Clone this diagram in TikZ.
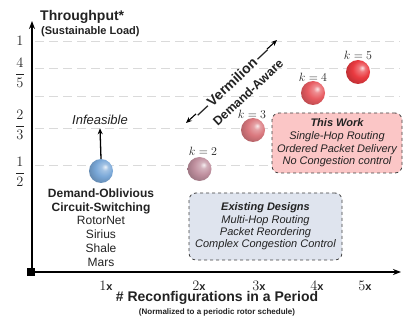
\documentclass[tikz,border=0pt]{standalone}
\usepackage{fontspec}
\setmainfont{Liberation Sans}
\usetikzlibrary{arrows.meta,calc}
\definecolor{gridc}{HTML}{DADADA}
\definecolor{txt}{HTML}{222222}
\definecolor{pinkfill}{HTML}{FBC6C6}
\definecolor{bluefill}{HTML}{DFE4EE}
\definecolor{ballA}{HTML}{7AA8D8}
\definecolor{ballB}{HTML}{C0909F}
\definecolor{ballC}{HTML}{DA787E}
\definecolor{ballD}{HTML}{E85C62}
\definecolor{ballE}{HTML}{EA3A40}
\colorlet{myball}{ballA}
\pgfdeclareradialshading[myball]{softball}{\pgfqpoint{9bp}{9bp}}{%
  color(0bp)=(myball!15!white);
  color(7bp)=(myball!70!white);
  color(18bp)=(myball);
  color(32bp)=(myball!80!black);
  color(42bp)=(myball!62!black);
  color(60bp)=(myball!55!black)}
\tikzset{
  gridline/.style={gridc, line width=1pt, dash pattern=on 9pt off 5pt},
  axisline/.style={line width=1.8pt, -{Stealth[length=8pt,width=6pt]}},
  sphere/.style={circle, minimum size=24pt, inner sep=0pt, /utils/exec={\colorlet{myball}{#1}}, shading=softball},
  klab/.style={font=\fontsize{13}{13}\selectfont, text=txt},
  ylab/.style={font=\fontsize{14}{14}\selectfont, text=txt},
  xlab/.style={font=\fontsize{14}{14}\selectfont, text=txt},
  infobox/.style={draw=black!75, dashed, line width=0.8pt, rounded corners=7pt, fill=#1, align=center, text=txt, inner sep=0pt},
  diag/.style={rotate=43, text=txt, inner sep=0pt},
}
\newcommand{\xx}{{\fontsize{11}{11}\selectfont\bfseries x}}
\begin{document}
\begin{tikzpicture}[x=1pt,y=-1pt]
\useasboundingbox (0,0) rectangle (406,320);
% grid lines
\foreach \yy in {42,69,97,129,166}{
  \draw[gridline] (35,\yy) -- (400,\yy);
}
% axes
\coordinate (O) at (32,272);
\coordinate (ytop) at (32,21);
\coordinate (xend) at (401,272);
\draw[axisline] (O) -- (ytop);
\draw[axisline] (O) -- (xend);
\node[fill=black, minimum size=8pt, inner sep=0pt] (orig) at (31,272) {};
% axis titles
\node[anchor=west, font=\fontsize{14}{14}\selectfont\bfseries, text=txt, inner sep=0pt] (ytitle) at (40,17) {Throughput*};
\node[anchor=west, font=\fontsize{11}{11}\selectfont\bfseries, text=txt, inner sep=0pt] (ysub) at (41,32) {(Sustainable Load)};
\node[font=\fontsize{14}{14}\selectfont\bfseries, text=txt, inner sep=0pt] (xtitle) at (217,298) {\# Reconfigurations in a Period};
\node[font=\fontsize{8}{8}\selectfont\bfseries, text=txt, inner sep=0pt] (xsub) at (217,312) {(Normalized to a periodic rotor schedule)};
% y tick labels
\node[ylab] (y1) at (20,41) {$1$};
\node[ylab] (y45) at (20,73) {$\displaystyle\frac{4}{5}$};
\node[ylab] (y23) at (20,125) {$\displaystyle\frac{2}{3}$};
\node[ylab] (y12) at (20,172) {$\displaystyle\frac{1}{2}$};
% x tick labels
\node[xlab] (x1) at (106,286) {$1$\xx};
\node[xlab] (x2) at (199,286) {$2$\xx};
\node[xlab] (x3) at (259,286) {$3$\xx};
\node[xlab] (x4) at (317,286) {$4$\xx};
\node[xlab] (x5) at (365,286) {$5$\xx};
% spheres
\node[sphere=ballA] (s1) at (101,171) {};
\node[sphere=ballB] (s2) at (199.5,169) {};
\node[sphere=ballC] (s3) at (253,130) {};
\node[sphere=ballD] (s4) at (313,93) {};
\node[sphere=ballE] (s5) at (358,72) {};
\node[klab] (k2) at (203,151) {$k=2$};
\node[klab] (k3) at (252,114) {$k=3$};
\node[klab] (k4) at (313,77) {$k=4$};
\node[klab] (k5) at (358,55) {$k=5$};
% infeasible
\node[font=\fontsize{13}{13}\selectfont\itshape, text=txt] (inf) at (100,120) {Infeasible};
\draw[line width=1.3pt, -{Stealth[length=6pt,width=5pt]}] (s1.north) -- (inf.south);
% demand-oblivious block
\node[align=center, text=txt, font=\fontsize{12}{13.8}\selectfont] (dob) at (101,227.5)
  {\textbf{Demand-Oblivious}\\\textbf{Circuit-Switching}\\RotorNet\\Sirius\\Shale\\Mars};
% vermilion arrow
\coordinate (va) at (186,123);
\coordinate (vb) at (277,40);
\node[diag, font=\fontsize{14}{14}\selectfont\bfseries] (verm) at (232,82) {\textemdash\,Vermilion\,\textemdash};
\draw[line width=1.1pt, -{Stealth[length=6pt,width=5pt]}] ($(va)!0.11!(vb)$) -- (va);
\draw[line width=1.1pt, -{Stealth[length=6pt,width=5pt]}] ($(vb)!0.11!(va)$) -- (vb);
\node[diag, font=\fontsize{12.5}{12.5}\selectfont\bfseries] (daware) at (248,92.5) {Demand-Aware};
% boxes
\node[infobox=pinkfill, minimum width=130pt, minimum height=60pt, font=\fontsize{11}{12.6}\selectfont\itshape] (tw) at (337,143)
  {\textbf{This Work}\\Single-Hop Routing\\Ordered Packet Delivery\\No Congestion control};
\node[infobox=bluefill, minimum width=153pt, minimum height=67pt, font=\fontsize{11}{12.4}\selectfont\itshape] (ed) at (265.5,226.5)
  {\textbf{Existing Designs}\\Multi-Hop Routing\\Packet Reordering\\Complex Congestion Control};
\end{tikzpicture}
\end{document}
